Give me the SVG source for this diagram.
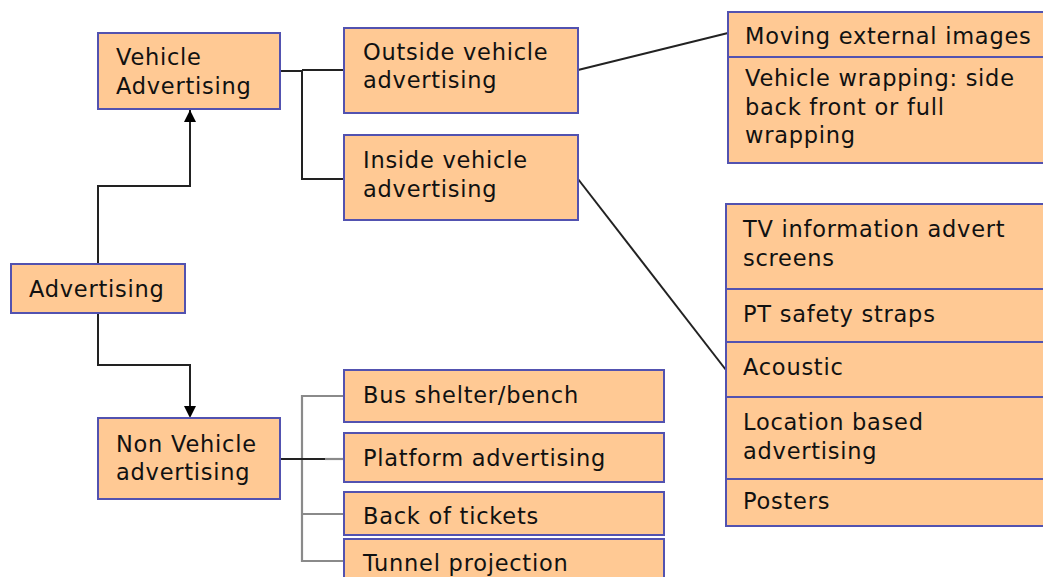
<svg xmlns="http://www.w3.org/2000/svg" width="1043" height="577" viewBox="0 0 1043 577">
<style>
.box{fill:#ffc994;stroke:#5252b0;stroke-width:2}
.div{stroke:#5252b0;stroke-width:2}
text{font-family:"DejaVu Sans",Verdana,sans-serif;font-size:22.5px;fill:#111;letter-spacing:0.75px}
.c{fill:none;stroke:#222;stroke-width:2}
.g{fill:none;stroke:#8a8a8a;stroke-width:2.2}
</style>
<g id="connectors">
<path class="c" d="M98,264 V186 H190 V110"/>
<path d="M184,122 L196,122 L190,110 Z" fill="#000"/>
<path class="c" d="M98,313 V365 H190 V406"/>
<path d="M184,406 L196,406 L190,418 Z" fill="#000"/>
<path class="c" d="M280,71 H302 V179 H344"/>
<path class="c" d="M302,70 H344"/>
<path class="c" d="M578,70 L728,33"/>
<path class="c" d="M578,179 L726,370"/>
<path class="g" d="M344,396 H302 V561 H344"/>
<path class="g" d="M302,514 H344"/>
<path class="g" d="M325,459 H344"/>
<path class="c" d="M280,459 H325"/>
</g>
<g id="advertising">
<rect class="box" x="11" y="264" width="174" height="49"/>
<text x="29" y="297">Advertising</text>
</g>
<g id="vehicle-advertising">
<rect class="box" x="98" y="33" width="182" height="76"/>
<text x="116" y="65">Vehicle</text>
<text x="116" y="94">Advertising</text>
</g>
<g id="non-vehicle-advertising">
<rect class="box" x="98" y="418" width="182" height="81"/>
<text x="116" y="452">Non Vehicle</text>
<text x="116" y="480">advertising</text>
</g>
<g id="outside-vehicle">
<rect class="box" x="344" y="28" width="234" height="85"/>
<text x="363" y="60">Outside vehicle</text>
<text x="363" y="88">advertising</text>
</g>
<g id="inside-vehicle">
<rect class="box" x="344" y="135" width="234" height="85"/>
<text x="363" y="168">Inside vehicle</text>
<text x="363" y="197">advertising</text>
</g>
<g id="outside-list">
<rect class="box" x="728" y="12" width="320" height="151"/>
<line class="div" x1="728" y1="57" x2="1048" y2="57"/>
<text x="745" y="44">Moving external images</text>
<text x="745" y="86">Vehicle wrapping: side</text>
<text x="745" y="115">back front or full</text>
<text x="745" y="143">wrapping</text>
</g>
<g id="inside-list">
<rect class="box" x="726" y="204" width="322" height="322"/>
<line class="div" x1="726" y1="289" x2="1048" y2="289"/>
<line class="div" x1="726" y1="342" x2="1048" y2="342"/>
<line class="div" x1="726" y1="397" x2="1048" y2="397"/>
<line class="div" x1="726" y1="479" x2="1048" y2="479"/>
<text x="743" y="237">TV information advert</text>
<text x="743" y="266">screens</text>
<text x="743" y="322">PT safety straps</text>
<text x="743" y="375">Acoustic</text>
<text x="743" y="430">Location based</text>
<text x="743" y="459">advertising</text>
<text x="743" y="509">Posters</text>
</g>
<g id="bus-shelter">
<rect class="box" x="344" y="370" width="320" height="52"/>
<text x="363" y="403">Bus shelter/bench</text>
</g>
<g id="platform">
<rect class="box" x="344" y="433" width="320" height="49"/>
<text x="363" y="466">Platform advertising</text>
</g>
<g id="back-of-tickets">
<rect class="box" x="344" y="492" width="320" height="43"/>
<text x="363" y="524">Back of tickets</text>
</g>
<g id="tunnel-projection">
<rect class="box" x="344" y="539" width="320" height="50"/>
<text x="363" y="571">Tunnel projection</text>
</g>
</svg>
